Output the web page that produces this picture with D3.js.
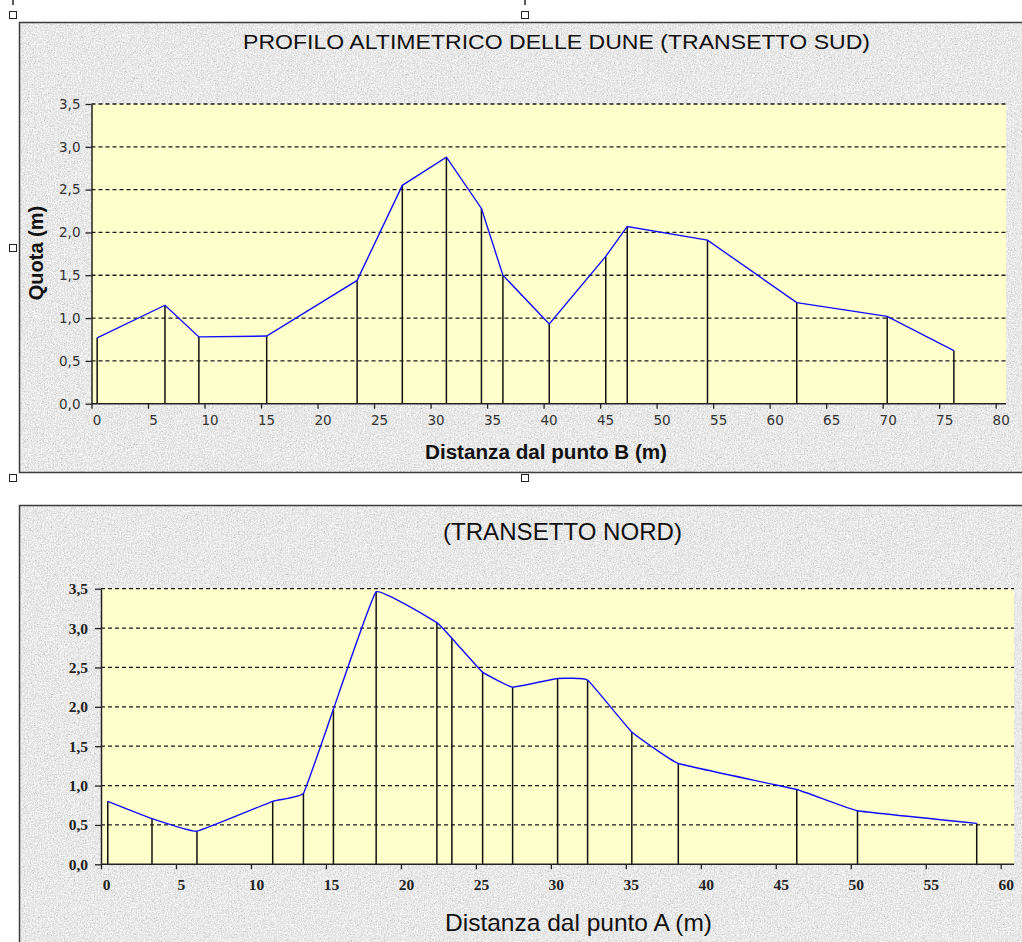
<!DOCTYPE html>
<html>
<head>
<meta charset="utf-8">
<script src="https://cdn.jsdelivr.net/npm/d3@7/dist/d3.min.js"></script>
<style>
  html, body { margin: 0; padding: 0; background: #ffffff; }
  svg { display: block; }
</style>
</head>
<body>
<script>
// ---------- DATA ----------
const southTitle = "PROFILO ALTIMETRICO DELLE DUNE (TRANSETTO SUD)";
const southXTitle = "Distanza dal punto B (m)";
const southX = [0.5, 6.5, 9.5, 15.5, 23.5, 27.5, 31.4, 34.5, 36.4, 40.5, 45.5, 47.4, 54.5, 62.4, 70.4, 76.3];
const southY = [0.77, 1.15, 0.78, 0.79, 1.44, 2.55, 2.88, 2.28, 1.50, 0.93, 1.72, 2.07, 1.91, 1.18, 1.02, 0.62];
const southXTicks = [0, 5, 10, 15, 20, 25, 30, 35, 40, 45, 50, 55, 60, 65, 70, 75, 80];

const northTitle = "(TRANSETTO NORD)";
const northXTitle = "Distanza dal punto A (m)";
const northX = [0.45, 3.4, 6.4, 11.45, 13.5, 15.5, 18.35, 22.4, 23.4, 25.45, 27.45, 30.45, 32.45, 35.4, 38.5, 46.4, 50.45, 58.4];
const northY = [0.80, 0.58, 0.42, 0.80, 0.90, 1.97, 3.46, 3.07, 2.87, 2.44, 2.25, 2.36, 2.34, 1.68, 1.28, 0.95, 0.68, 0.52];
const northXTicks = [0, 5, 10, 15, 20, 25, 30, 35, 40, 45, 50, 55, 60];

const yTitle = "Quota (m)";
const yTicks = [0, 0.5, 1.0, 1.5, 2.0, 2.5, 3.0, 3.5];

// ---------- DRAW ----------
const W = 1022, H = 942;
const svg = d3.select("body").append("svg").attr("width", W).attr("height", H);
svg.append("rect").attr("width", W).attr("height", H).attr("fill", "#ffffff");

const defs = svg.append("defs");
const f = defs.append("filter").attr("id", "granite")
  .attr("x", 0).attr("y", 0).attr("width", "100%").attr("height", "100%")
  .attr("filterUnits", "objectBoundingBox");
f.append("feFlood").attr("flood-color", "#e3e3e3").attr("result", "base");
f.append("feTurbulence").attr("type", "fractalNoise").attr("baseFrequency", 0.7)
  .attr("numOctaves", 3).attr("seed", 7).attr("result", "noise");
f.append("feColorMatrix").attr("in", "noise").attr("type", "matrix")
  .attr("values", "0 0 0 0 0.5  0 0 0 0 0.5  0 0 0 0 0.5  -2.8 0 0 0 1.32")
  .attr("result", "dark");
f.append("feColorMatrix").attr("in", "noise").attr("type", "matrix")
  .attr("values", "0 0 0 0 1  0 0 0 0 1  0 0 0 0 1  0 2.8 0 0 -1.2")
  .attr("result", "light");
const fm = f.append("feMerge");
fm.append("feMergeNode").attr("in", "base");
fm.append("feMergeNode").attr("in", "dark");
fm.append("feMergeNode").attr("in", "light");

const fmt = v => d3.format(".1f")(v).replace(".", ",");

function frame(x, y, w, h) {
  svg.append("rect").attr("x", x).attr("y", y).attr("width", w).attr("height", h)
    .attr("fill", "#e3e3e3").attr("filter", "url(#granite)");
  svg.append("rect").attr("x", x).attr("y", y).attr("width", w).attr("height", h)
    .attr("fill", "none").attr("stroke", "#3c3c3c").attr("stroke-width", 1.5);
}

function drawChart(c) {
  const g = svg.append("g");
  const x = d3.scaleLinear().domain([0, c.xTicks[c.xTicks.length - 1]]).range([c.x0, c.x1]);
  const y = d3.scaleLinear().domain([0, 3.5]).range([c.y0, c.y1]);

  // plot area
  g.append("rect").attr("x", c.x0).attr("y", c.y1)
    .attr("width", c.plotRight - c.x0).attr("height", c.y0 - c.y1)
    .attr("fill", "#ffffcc");

  // gridlines
  g.append("g").selectAll("line").data(yTicks.filter(d => d > 0)).join("line")
    .attr("x1", c.x0).attr("x2", c.plotRight)
    .attr("y1", d => y(d)).attr("y2", d => y(d))
    .attr("stroke", "#1a1a1a").attr("stroke-width", 1.3)
    .attr("stroke-dasharray", "4,3");

  // drop lines
  const pts = c.xs.map((v, i) => [v, c.ys[i]]);
  g.append("g").selectAll("line").data(pts).join("line")
    .attr("x1", d => x(d[0])).attr("x2", d => x(d[0]))
    .attr("y1", d => y(d[1])).attr("y2", y(0))
    .attr("stroke", "#111").attr("stroke-width", 1.5);

  // profile line
  g.append("path").datum(pts)
    .attr("d", d3.line().x(d => x(d[0])).y(d => y(d[1])).curve(c.curve))
    .attr("fill", "none").attr("stroke", "#1010ff").attr("stroke-width", 1.4);

  // axes
  const ax = g.append("g").attr("transform", `translate(0,${c.y0})`)
    .call(d3.axisBottom(x).tickValues(c.xTicks).tickFormat(d3.format("d")).tickSize(5).tickSizeOuter(0));
  ax.select(".domain").attr("d", `M${c.x0},0H${c.plotRight}`).attr("stroke", "#222").attr("stroke-width", 1.5);
  ax.selectAll(".tick line").attr("stroke", "#222").attr("stroke-width", 1.3);
  ax.selectAll(".tick text").attr("dx", 5).attr("y", c.xLabelDy)
    .attr("font-family", c.tickFont).attr("font-size", c.tickSize)
    .attr("font-weight", c.tickWeight).attr("fill", c.tickColor);

  const ay = g.append("g").attr("transform", `translate(${c.x0},0)`)
    .call(d3.axisLeft(y).tickValues(yTicks).tickFormat(fmt).tickSize(6).tickSizeOuter(0));
  ay.select(".domain").attr("stroke", "#222").attr("stroke-width", 1.5);
  ay.selectAll(".tick line").attr("stroke", "#222").attr("stroke-width", 1.3);
  ay.selectAll(".tick text").attr("x", c.yLabelX)
    .attr("font-family", c.tickFont).attr("font-size", c.tickSize)
    .attr("font-weight", c.tickWeight).attr("fill", c.tickColor);

  // titles
  g.append("text").attr("x", c.titleX).attr("y", c.titleY).attr("text-anchor", "middle")
    .attr("font-family", "Liberation Sans, Arial, sans-serif").attr("font-size", c.titleSize)
    .attr("textLength", c.titleLen).attr("lengthAdjust", "spacingAndGlyphs")
    .attr("fill", "#111").text(c.title);

  g.append("text").attr("x", c.xtX).attr("y", c.xtY).attr("text-anchor", "middle")
    .attr("font-family", "Liberation Sans, Arial, sans-serif").attr("font-size", c.xtSize)
    .attr("font-weight", c.xtWeight).attr("textLength", c.xtLen).attr("lengthAdjust", "spacingAndGlyphs")
    .attr("fill", "#111").text(c.xTitle);

  let yt = g.append("text").attr("transform", `translate(${c.ytX},${c.ytY}) rotate(-90)`)
    .attr("text-anchor", c.ytAnchor)
    .attr("font-family", "Liberation Sans, Arial, sans-serif").attr("font-size", c.ytSize)
    .attr("font-weight", c.ytWeight).attr("fill", "#111").text(yTitle);
  if (c.ytClip) yt.attr("clip-path", c.ytClip);
}

// frames
frame(19.5, 22.5, 1015, 450);
frame(19.5, 505.5, 1015, 450);

// clip for the truncated y-title of the second chart
defs.append("clipPath").attr("id", "ytclip").attr("clipPathUnits", "userSpaceOnUse")
  .append("rect").attr("x", 0).attr("y", 669).attr("width", 100).attr("height", 200);

drawChart({
  xs: southX, ys: southY, xTicks: southXTicks,
  x0: 91.5, x1: 995.7, plotRight: 1006, y0: 403.7, y1: 104,
  curve: d3.curveLinear,
  tickFont: "DejaVu Sans, sans-serif", tickSize: 13.5, tickWeight: "normal", tickColor: "#333",
  xLabelDy: 12, yLabelX: -11,
  title: southTitle, titleX: 556.5, titleY: 48.5, titleSize: 21, titleLen: 627,
  xTitle: southXTitle, xtX: 546, xtY: 458.5, xtSize: 20, xtWeight: "bold", xtLen: 242,
  ytX: 43, ytY: 253, ytAnchor: "middle", ytSize: 20, ytWeight: "bold", ytClip: null
});

drawChart({
  xs: northX, ys: northY, xTicks: northXTicks,
  x0: 101, x1: 1000.7, plotRight: 1014, y0: 864.3, y1: 588.7,
  curve: d3.curveCardinal.tension(0.75),
  tickFont: "Liberation Serif, Times New Roman, serif", tickSize: 15.5, tickWeight: "bold", tickColor: "#222",
  xLabelDy: 15, yLabelX: -13,
  title: northTitle, titleX: 562.5, titleY: 540, titleSize: 24, titleLen: 239,
  xTitle: northXTitle, xtX: 578.5, xtY: 931, xtSize: 24, xtWeight: "normal", xtLen: 267,
  ytX: 46.5, ytY: 768, ytAnchor: "start", ytSize: 24, ytWeight: "normal", ytClip: "url(#ytclip)"
});

// selection handles
const handles = [[9.5, 11.5], [521.5, 11.5], [9.5, 244.5], [9.5, 474.5], [521.5, 474.5]];
svg.append("g").selectAll("rect").data(handles).join("rect")
  .attr("x", d => d[0]).attr("y", d => d[1]).attr("width", 7).attr("height", 7)
  .attr("fill", "#fff").attr("stroke", "#222").attr("stroke-width", 1);
svg.append("g").selectAll("line").data([13, 525]).join("line")
  .attr("x1", d => d).attr("x2", d => d).attr("y1", 0).attr("y2", 5)
  .attr("stroke", "#222").attr("stroke-width", 1.5);
</script>
</body>
</html>
